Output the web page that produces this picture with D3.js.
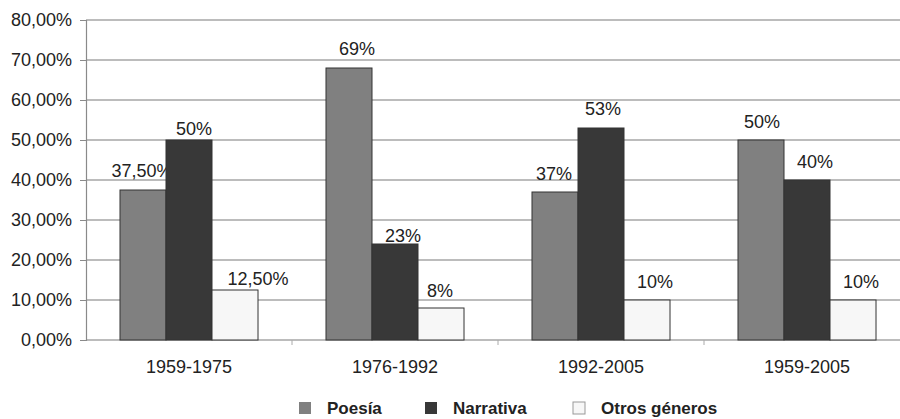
<!DOCTYPE html>
<html><head><meta charset="utf-8">
<script src="https://cdn.jsdelivr.net/npm/d3@7"></script>
<style>
html,body{margin:0;padding:0;background:#fff;}
svg{display:block;font-family:"Liberation Sans",Arial,sans-serif;}
</style></head>
<body><svg id="c" width="900" height="419"></svg>
<script>
// ---- data ----
const categories = ["1959-1975", "1976-1992", "1992-2005", "1959-2005"];
const seriesNames = ["Poesía", "Narrativa", "Otros géneros"];
const poesia    = [37.5, 68, 37, 50];
const narrativa = [50, 24, 53, 40];
const otros     = [12.5, 8, 10, 10];
const poesiaLabels    = ["37,50%", "69%", "37%", "50%"];
const narrativaLabels = ["50%", "23%", "53%", "40%"];
const otrosLabels     = ["12,50%", "8%", "10%", "10%"];
const yTicks = [0, 10, 20, 30, 40, 50, 60, 70, 80];

// ---- drawing ----
(function () {
const svg = d3.select("#c");
const mLeft = 86, mTop = 20, mBottom = 340, mRight = 910;
const colors = ["#808080", "#383838", "#f7f7f7"];
const seriesValues = [poesia, narrativa, otros];
const seriesLabels = [poesiaLabels, narrativaLabels, otrosLabels];

const y = d3.scaleLinear().domain([0, 80]).range([mBottom, mTop]);
const x = d3.scaleBand().domain(categories).range([mLeft, mRight]).padding(0);
const xs = d3.scaleBand().domain(seriesNames).range([0, x.bandwidth()]).paddingInner(0).paddingOuter(0.739);

const loc = d3.formatLocale({decimal: ",", thousands: ".", grouping: [3], currency: ["", "€"]});
const fmt = v => loc.format(".2f")(v) + "%";

// grid
svg.append("g").selectAll("line").data(yTicks).join("line")
  .attr("x1", mLeft).attr("x2", 900)
  .attr("y1", d => y(d)).attr("y2", d => y(d))
  .attr("stroke", "#7a7a7a").attr("stroke-width", 1.2);

// y axis
const ya = svg.append("g").attr("transform", `translate(${mLeft},0)`)
  .call(d3.axisLeft(y).tickValues(yTicks).tickFormat(fmt).tickSize(6).tickPadding(8));
ya.select(".domain").attr("stroke", "#8a8a8a").attr("stroke-width", 1.2);
ya.selectAll(".tick line").attr("stroke", "#8a8a8a");
ya.selectAll("text").attr("font-size", 18).attr("fill", "#222").attr("font-family", "Liberation Sans, Arial, sans-serif");

// x axis
const xa = svg.append("g").attr("transform", `translate(0,${mBottom})`)
  .call(d3.axisBottom(x).tickSize(0).tickPadding(20));
xa.select(".domain").remove();
xa.selectAll("text").attr("font-size", 18).attr("fill", "#222").attr("font-family", "Liberation Sans, Arial, sans-serif");
// category boundary ticks
svg.append("g").selectAll("line").data(categories.slice(1)).join("line")
  .attr("x1", d => x(d)).attr("x2", d => x(d))
  .attr("y1", mBottom).attr("y2", mBottom + 5)
  .attr("stroke", "#aaa");

// bars
const nudge = [
  [[-1, 13], [8, 13], [-1, 12], [1, 12]],
  [[5, 5], [8, 2], [2, 13], [8, 12]],
  [[23, 5], [-1, 11], [8, 12], [8, 12]]
];
seriesNames.forEach((s, si) => {
  const g = svg.append("g");
  g.selectAll("rect").data(categories).join("rect")
    .attr("x", c => x(c) + xs(s))
    .attr("y", (c, i) => y(seriesValues[si][i]))
    .attr("width", xs.bandwidth())
    .attr("height", (c, i) => y(0) - y(seriesValues[si][i]))
    .attr("fill", colors[si]).attr("stroke", "#333").attr("stroke-width", 1);
  g.selectAll("text").data(categories).join("text")
    .attr("x", (c, i) => x(c) + xs(s) + xs.bandwidth() / 2 + nudge[si][i][0])
    .attr("y", (c, i) => y(seriesValues[si][i]) - nudge[si][i][1])
    .attr("text-anchor", "middle").attr("font-size", 18).attr("fill", "#222")
    .text((c, i) => seriesLabels[si][i]);
});

// legend
const legX = [299, 425, 573];
const lg = svg.append("g");
seriesNames.forEach((s, i) => {
  lg.append("rect").attr("x", legX[i]).attr("y", 402).attr("width", 12).attr("height", 12)
    .attr("fill", colors[i]).attr("stroke", i === 2 ? "#999" : "none");
  lg.append("text").attr("x", legX[i] + 28).attr("y", 414)
    .attr("font-size", 17).attr("font-weight", "bold").attr("fill", "#222")
    .text(s);
});
})();
</script>
</body></html>
